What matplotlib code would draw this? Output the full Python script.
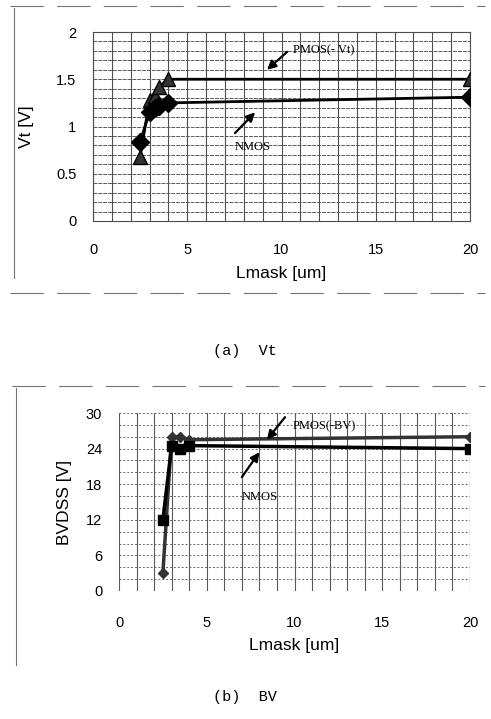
import numpy as np
import matplotlib.pyplot as plt
from matplotlib.lines import Line2D

# data
lmask = [2.5, 3.0, 3.3, 3.5, 4.0, 20]
vt_nmos = [0.84, 1.15, 1.20, 1.22, 1.25, 1.31]
vt_pmos = [0.68, 1.28, 1.32, 1.42, 1.50, 1.50]

lmask_bv = [2.5, 3.0, 3.5, 4.0, 20]
bv_pmos = [3, 26, 26, 25.5, 26]
bv_nmos = [12, 24.5, 24, 24.5, 24]

W, H = 491, 719
fig = plt.figure(figsize=(W/100, H/100), dpi=100)

def box(l, t, r, b):
    return [l/W, 1-b/H, (r-l)/W, (b-t)/H]

tickfont = dict(family='Liberation Sans', size=10.5)
serif = 'Liberation Serif'
arw = dict(arrowstyle='-|>', color='black', lw=1.6, mutation_scale=13, shrinkA=0, shrinkB=0)

# ---------- (a) Vt ----------
ax1 = fig.add_axes(box(93, 32, 470, 221))
ax1.plot(lmask, vt_nmos, color='black', lw=2, marker='D', ms=9, zorder=4)
ax1.plot(lmask, vt_pmos, color='black', lw=2, marker='^', ms=10, zorder=3,
         markerfacecolor='0.2')
ax1.set_xlim(0, 20)
ax1.set_ylim(0, 2)
ax1.set_xticks(np.arange(0, 21, 5))
ax1.set_yticks([0, 0.5, 1, 1.5, 2])
ax1.set_yticklabels(['0', '0.5', '1', '1.5', '2'])
ax1.set_xticks(np.arange(0, 21, 1), minor=True)
ax1.set_yticks(np.arange(0, 2.01, 0.1), minor=True)
ax1.grid(which='both', axis='x', color='0.3', lw=0.8)
ax1.grid(which='both', axis='y', color='0.35', lw=0.7, ls=(0, (4, 1)))
ax1.tick_params(which='both', length=0)
ax1.tick_params(axis='y', pad=12)
ax1.tick_params(axis='x', pad=16)
for lab in ax1.get_xticklabels() + ax1.get_yticklabels():
    lab.set_fontproperties(tickfont)
ax1.set_xlabel('Lmask [um]', family='Liberation Sans', size=12.5, labelpad=6)
ax1.set_ylabel('Vt [V]', family='Liberation Sans', size=12.5, labelpad=16)
for s in ax1.spines.values():
    s.set_color('0.3')
    s.set_linewidth(0.8)
ax1.annotate('', xy=(9.23, 1.6), xytext=(10.3, 1.79), arrowprops=arw)
ax1.text(10.6, 1.81, 'PMOS(- Vt)', fontsize=9, family=serif, va='center', ha='left')
ax1.annotate('', xy=(8.6, 1.15), xytext=(7.53, 0.93), arrowprops=arw)
ax1.text(7.53, 0.78, 'NMOS', fontsize=9, family=serif, va='center', ha='left')
fig.text(245/W, 1-351/H, '(a)  Vt', ha='center', va='center', family='Liberation Mono', size=11)

# ---------- (b) BV ----------
ax2 = fig.add_axes(box(119, 413, 470, 591))
ax2.plot(lmask_bv, bv_pmos, color='0.2', lw=2.5, marker='D', ms=5, zorder=3)
ax2.plot(lmask_bv, bv_nmos, color='black', lw=2.5, marker='s', ms=7, zorder=4)
ax2.set_xlim(0, 20)
ax2.set_ylim(0, 30)
ax2.set_xticks(np.arange(0, 21, 5))
ax2.set_yticks(np.arange(0, 31, 6))
ax2.set_xticks(np.arange(0, 21, 1), minor=True)
ax2.set_yticks(np.arange(0, 31, 2), minor=True)
ax2.grid(which='both', axis='x', color='0.35', lw=0.8)
ax2.grid(which='both', axis='y', color='0.4', lw=0.7, ls=(0, (2, 2)))
ax2.tick_params(which='both', length=0)
ax2.tick_params(axis='y', pad=12)
ax2.tick_params(axis='x', pad=18)
for lab in ax2.get_xticklabels() + ax2.get_yticklabels():
    lab.set_fontproperties(tickfont)
ax2.set_xlabel('Lmask [um]', family='Liberation Sans', size=12.5, labelpad=6)
ax2.set_ylabel('BVDSS [V]', family='Liberation Sans', size=12.5, labelpad=10)
for s in ax2.spines.values():
    s.set_visible(False)
ax2.annotate('', xy=(8.43, 25.5), xytext=(9.46, 29.3), arrowprops=arw)
ax2.text(9.9, 27.7, 'PMOS(-BV)', fontsize=9, family=serif, va='center', ha='left')
ax2.annotate('', xy=(8.0, 23.4), xytext=(7.0, 19.2), arrowprops=arw)
ax2.text(7.0, 15.9, 'NMOS', fontsize=9, family=serif, va='center', ha='left')
fig.text(245/W, 1-697/H, '(b)  BV', ha='center', va='center', family='Liberation Mono', size=11)

# panel frames (scanned borders)
def fline(x0, y0, x1, y1, **kw):
    fig.add_artist(Line2D([x0/W, x1/W], [1-y0/H, 1-y1/H], color='0.45', lw=0.8, **kw))

fline(14, 8, 14, 278)
fline(10, 6, 485, 6, ls=(0, (30, 12)))
fline(10, 293, 485, 293, ls=(0, (30, 12)))
fline(16, 388, 16, 665)
fline(12, 386, 485, 386, ls=(0, (30, 12)))

fig.savefig('out.png', dpi=100)
